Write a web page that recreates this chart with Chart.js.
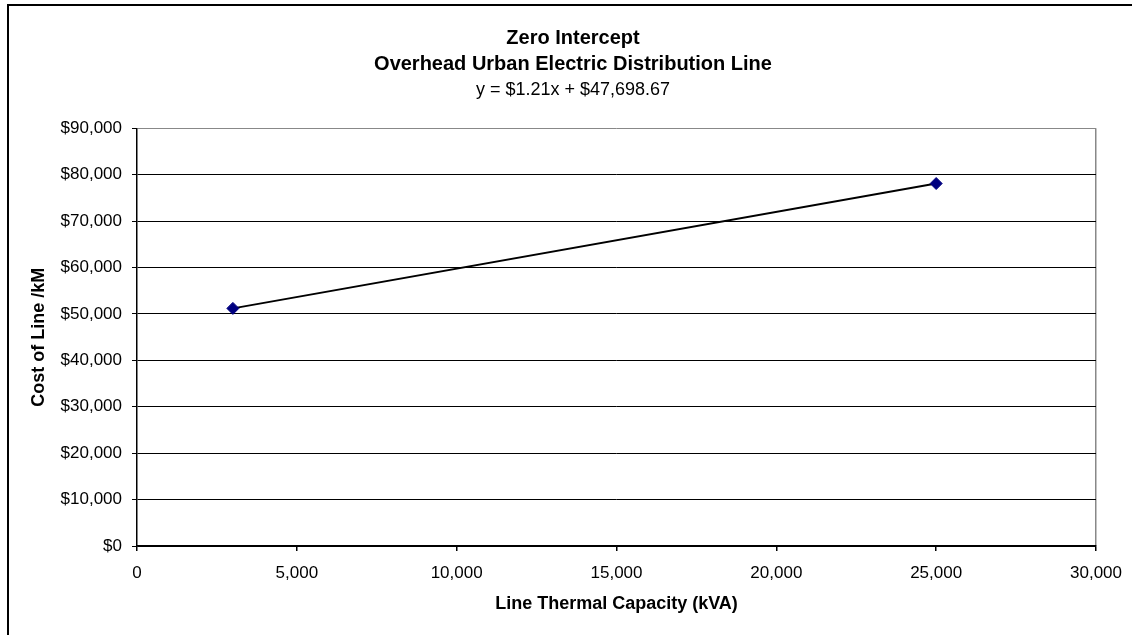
<!DOCTYPE html>
<html>
<head>
<meta charset="utf-8">
<script src="https://cdn.jsdelivr.net/npm/chart.js@4/dist/chart.umd.min.js"></script>
<style>
    html, body { margin: 0; padding: 0; background: #fff; overflow: hidden; width: 1132px; height: 635px; }
    #frame { position: absolute; left: 7px; top: 4px; width: 1300px; height: 800px;
             border-left: 2px solid #000; border-top: 2px solid #000; }
    #wrap { position: absolute; left: 0; top: 0; width: 1146px; height: 635px; }
</style>
</head>
<body>
<div id="frame"></div>
<div id="wrap"><canvas id="costChart" width="1146" height="635"></canvas></div>
<script>
// Chart data
const titleLines = ["Zero Intercept", "Overhead Urban Electric Distribution Line"];
const equationText = "y = $1.21x + $47,698.67";
const capacityKva = [3000, 25000];      // x values
const costPerKm = [51200, 78100];       // y values
const xTicks = [0, 5000, 10000, 15000, 20000, 25000, 30000];
const yTicks = [0, 10000, 20000, 30000, 40000, 50000, 60000, 70000, 80000, 90000];

const FONT = "'Liberation Sans', Arial, sans-serif";

const points = capacityKva.map((x, i) => ({ x: x, y: costPerKm[i] }));

const ctx = document.getElementById("costChart").getContext("2d");
const chart = new Chart(ctx, {
    type: "scatter",
    data: {
        datasets: [
            {
                label: "Cost of Line /kM",
                data: points,
                showLine: true,
                borderColor: "#000",
                borderWidth: 2,
                pointStyle: "rectRot",
                pointRadius: 6,
                pointBackgroundColor: "#000080",
                pointBorderColor: "#000080",
                pointBorderWidth: 1,
            },
        ],
    },
    options: {
        responsive: false,
        devicePixelRatio: 1,
        animation: false,
        layout: { padding: { left: 0, right: 0, top: 0, bottom: 0 } },
        plugins: {
            legend: { display: false },
            tooltip: { enabled: false },
            title: {
                display: true,
                text: titleLines,
                color: "#000",
                font: { family: FONT, size: 20, weight: "bold", lineHeight: 1.28 },
                padding: { top: 26, bottom: 0 },
            },
            subtitle: {
                display: true,
                text: equationText,
                color: "#000",
                font: { family: FONT, size: 18, weight: "normal", lineHeight: 1.2 },
                padding: { top: 2, bottom: 27.5 },
            },
        },
        scales: {
            x: {
                type: "linear",
                min: 0,
                max: 30000,
                afterFit: (scale) => { scale.height = 89; },
                afterBuildTicks: (scale) => { scale.ticks = xTicks.map(v => ({ value: v })); },
                ticks: {
                    color: "#000",
                    padding: 12,
                    maxRotation: 0,
                    font: { family: FONT, size: 17 },
                    callback: (v) => v.toLocaleString("en-US"),
                },
                grid: {
                    color: (c) => (c.tick && c.tick.value === 30000 ? "#888" : "rgba(0,0,0,0)"),
                    tickColor: "#000",
                    tickLength: 5,
                    lineWidth: 1.5,
                },
                border: { color: "#000", width: 1.5 },
                title: {
                    display: true,
                    text: "Line Thermal Capacity (kVA)",
                    color: "#000",
                    font: { family: FONT, size: 18, weight: "bold", lineHeight: 1.2 },
                    padding: { top: 0, bottom: 20 },
                },
            },
            y: {
                type: "linear",
                min: 0,
                max: 90000,
                afterFit: (scale) => { scale.width = 137; },
                afterBuildTicks: (scale) => { scale.ticks = yTicks.map(v => ({ value: v })); },
                ticks: {
                    color: "#000",
                    padding: 10,
                    font: { family: FONT, size: 17 },
                    callback: (v) => "$" + v.toLocaleString("en-US"),
                },
                grid: {
                    color: (c) => (c.tick && c.tick.value === 90000 ? "#888" : "#000"),
                    tickColor: "#000",
                    tickLength: 5,
                    lineWidth: 1,
                },
                border: { color: "#000", width: 1.5 },
                title: {
                    display: true,
                    text: "Cost of Line /kM",
                    color: "#000",
                    font: { family: FONT, size: 18, weight: "bold", lineHeight: 1.2 },
                    padding: { top: 28.5, bottom: 0 },
                },
            },
            // empty right-hand box so the chart area ends where the reference does
            // while the titles stay centred on the whole (wider) chart frame
            spacer: {
                type: "linear",
                position: "right",
                afterFit: (scale) => { scale.width = 50; },
                ticks: { display: false },
                grid: { display: false },
                border: { display: false },
            },
        },
    },
});
</script>
</body>
</html>
